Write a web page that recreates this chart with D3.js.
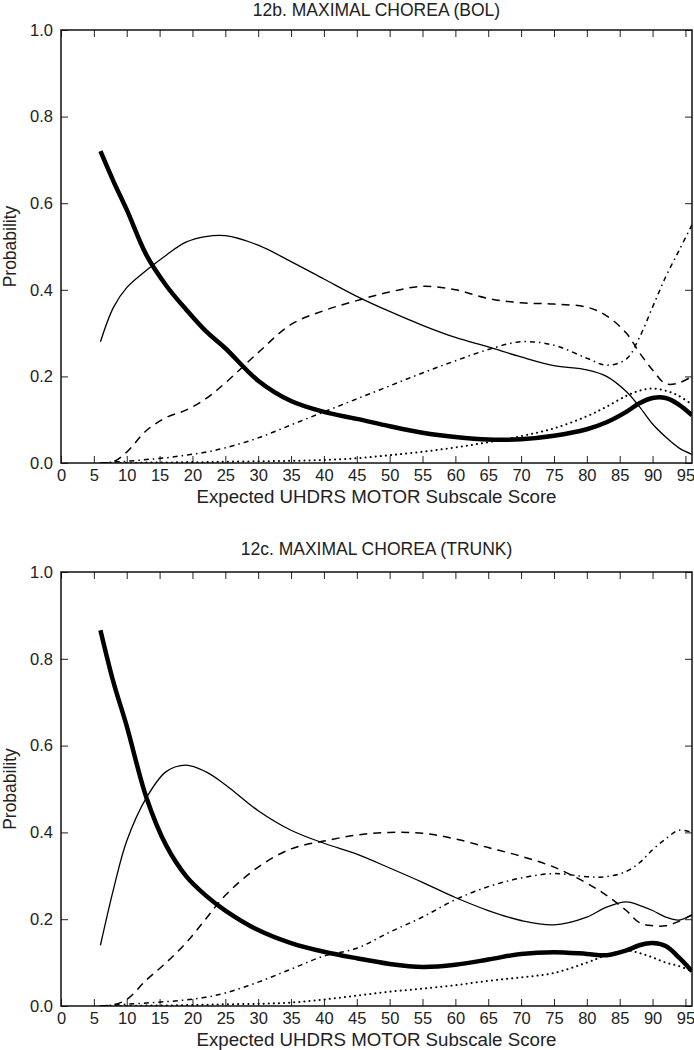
<!DOCTYPE html>
<html>
<head>
<meta charset="utf-8">
<script src="https://cdn.jsdelivr.net/npm/d3@7"></script>
<style>
  body { margin: 0; background: #fff; }
  text { font-family: "Liberation Sans", Arial, sans-serif; fill: #222; }
</style>
</head>
<body>
<script>
// Expected UHDRS motor score (shared by both panels)
var scores = [6, 8, 10, 13, 16, 19, 22, 25, 30, 35, 40, 45, 50, 55, 60, 65, 70, 75, 80, 83, 86, 88, 90, 92, 94, 96];

var xTicks = [0, 5, 10, 15, 20, 25, 30, 35, 40, 45, 50, 55, 60, 65, 70, 75, 80, 85, 90, 95];
var yTicks = [0, 0.2, 0.4, 0.6, 0.8, 1.0];

// 12b. BOL - probability of each chorea rating
var bol0 = [.72, .65, .585, .48, .41, .355, .305, .265, .19, .143, .118, .102, .085, .07, .06, .054, .055, .063, .078, .094, .118, .138, .150, .150, .135, .11];
var bol1 = [.28, .36, .405, .445, .48, .51, .523, .525, .503, .465, .425, .385, .35, .318, .29, .268, .245, .225, .215, .20, .165, .13, .09, .06, .035, .02];
var bol2 = [0, .003, .025, .075, .105, .122, .148, .185, .255, .32, .352, .375, .395, .408, .40, .38, .37, .367, .36, .34, .30, .255, .215, .183, .185, .20];
var bol3 = [0, .002, .004, .008, .012, .018, .025, .035, .058, .088, .118, .148, .178, .208, .236, .262, .28, .272, .242, .226, .240, .29, .36, .43, .49, .55];
var bol4 = [0, 0, 0, .001, .001, .002, .002, .003, .004, .005, .007, .011, .018, .026, .036, .048, .062, .08, .108, .13, .155, .167, .172, .167, .155, .135];

// 12c. TRUNK
var trunk0 = [.866, .745, .645, .48, .37, .30, .255, .22, .175, .145, .125, .11, .097, .09, .095, .107, .12, .124, .12, .117, .128, .14, .145, .138, .112, .08];
var trunk1 = [.14, .27, .38, .48, .54, .555, .54, .51, .45, .405, .375, .35, .318, .285, .25, .22, .197, .187, .205, .228, .24, .232, .22, .205, .198, .21];
var trunk2 = [0, .003, .015, .06, .10, .145, .20, .255, .32, .362, .38, .394, .40, .398, .385, .365, .345, .32, .283, .255, .22, .192, .185, .185, .195, .21];
var trunk3 = [0, .002, .004, .007, .01, .014, .02, .03, .055, .085, .115, .133, .17, .205, .245, .275, .295, .305, .298, .298, .31, .33, .36, .385, .405, .40];
var trunk4 = [0, 0, 0, .001, .001, .002, .003, .004, .005, .008, .015, .024, .033, .04, .048, .058, .066, .076, .10, .117, .128, .122, .112, .10, .092, .08];

// line styles for rating 0..4
var styles = [
    { width: 4.5, dash: null },
    { width: 1.3, dash: null },
    { width: 1.5, dash: "8,6" },
    { width: 1.5, dash: "5,4,1.5,4" },
    { width: 2, dash: "0.1,5", cap: "round" }
];

var width = 694, height = 1050;
var left = 61, right = 692;

var svg = d3.select("body").append("svg")
    .attr("width", width)
    .attr("height", height);

var x = d3.scaleLinear().domain([0, 96]).range([left, right]);

function panel(id, title, top, bottom, titleY, series) {
    var y = d3.scaleLinear().domain([0, 1]).range([bottom, top]);
    var g = svg.append("g");

    g.append("clipPath").attr("id", id)
      .append("rect")
        .attr("x", left).attr("y", top)
        .attr("width", right - left).attr("height", bottom - top);

    // axes with inward ticks on every side
    g.append("g").attr("transform", "translate(0," + bottom + ")")
        .call(d3.axisBottom(x).tickValues(xTicks).tickSize(-7).tickPadding(6));
    g.append("g").attr("transform", "translate(0," + top + ")")
        .call(d3.axisTop(x).tickValues(xTicks).tickSize(-7).tickFormat(""));
    g.append("g").attr("transform", "translate(" + left + ",0)")
        .call(d3.axisLeft(y).tickValues(yTicks).tickSize(-7).tickPadding(8).tickFormat(d3.format(".1f")));
    g.append("g").attr("transform", "translate(" + right + ",0)")
        .call(d3.axisRight(y).tickValues(yTicks).tickSize(-7).tickFormat(""));

    g.selectAll(".domain").remove();
    g.selectAll(".tick line").attr("stroke", "#222").attr("stroke-width", 1);
    g.selectAll(".tick text").style("font-size", "16.5px").attr("fill", "#222");

    g.append("rect")
        .attr("x", left).attr("y", top)
        .attr("width", right - left).attr("height", bottom - top)
        .attr("fill", "none").attr("stroke", "#111").attr("stroke-width", 1.5);

    var line = d3.line()
        .x(function(d, i) { return x(scores[i]); })
        .y(function(d) { return y(d); })
        .curve(d3.curveCatmullRom.alpha(0.5));

    series.forEach(function(s, k) {
        g.append("path")
            .datum(s)
            .attr("clip-path", "url(#" + id + ")")
            .attr("fill", "none")
            .attr("stroke", "#000")
            .attr("stroke-width", styles[k].width)
            .attr("stroke-dasharray", styles[k].dash)
            .attr("stroke-linecap", styles[k].cap || "butt")
            .attr("d", line);
    });

    g.append("text")
        .attr("x", (left + right) / 2).attr("y", titleY)
        .attr("text-anchor", "middle").style("font-size", "17.5px")
        .text(title);

    g.append("text")
        .attr("x", (left + right) / 2).attr("y", bottom + 40)
        .attr("text-anchor", "middle").style("font-size", "18.7px")
        .text("Expected UHDRS MOTOR Subscale Score");

    g.append("text")
        .attr("transform", "translate(16," + (top + bottom) / 2 + ") rotate(-90)")
        .attr("text-anchor", "middle").style("font-size", "17.5px")
        .text("Probability");
}

panel("clipA", "12b. MAXIMAL CHOREA (BOL)", 30, 463, 16, [bol0, bol1, bol2, bol3, bol4]);
panel("clipB", "12c. MAXIMAL CHOREA (TRUNK)", 572, 1006, 555, [trunk0, trunk1, trunk2, trunk3, trunk4]);
</script>
</body>
</html>
